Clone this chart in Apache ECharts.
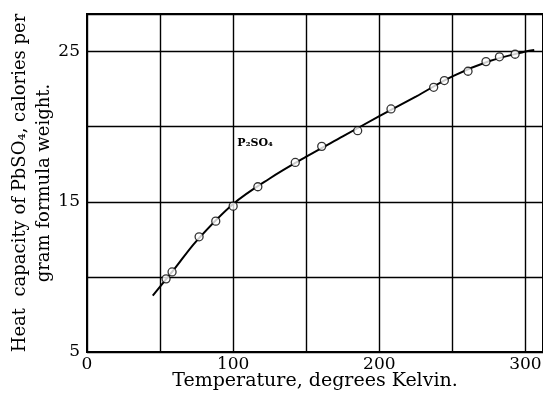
<!DOCTYPE html>
<html>
<head>
    <meta charset="utf-8">
    <title>PbSO4 heat capacity</title>
    <style>
        html,body,#myCanvas{
            height: 100%;
            width: 100%;
            padding: 0;
            margin: 0;
            background: #fff;
        }
    </style>
</head>
<body>
    <div id="myCanvas"></div>
    <script src="https://cdn.jsdelivr.net/npm/echarts@6/dist/echarts.min.js"></script>
    <script>
        // measured points (T in K, Cp in cal/deg per gram formula weight)
        var measT  = [54.1, 58.2, 76.7, 88.1, 100, 116.9, 142.5, 160.6, 185.2, 208, 237.2, 244.5, 260.7, 273, 282.2, 292.9];
        var measCp = [9.87, 10.33, 12.67, 13.71, 14.71, 16.0, 17.62, 18.69, 19.73, 21.18, 22.62, 23.07, 23.69, 24.33, 24.65, 24.82];

        // smooth curve drawn through them
        var curveT  = [45, 60, 75, 100, 125, 150, 175, 200, 225, 250, 275, 300, 306];
        var curveCp = [8.75, 10.55, 12.4, 14.85, 16.55, 18.0, 19.35, 20.7, 22.0, 23.35, 24.35, 25.0, 25.1];

        var xLabels = [0, 100, 200, 300];
        var yLabels = [5, 15, 25];

        var font = 'DejaVu Serif';

        function zip(a, b){
            return a.map(function(v, i){ return [v, b[i]]; });
        }

        let $parent = document.getElementById('myCanvas')
        let myChart = echarts.init($parent);

        var option = {
            animation: false,
            backgroundColor: '#fff',
            grid: {
                left: 87, right: 0, top: 14, bottom: 53,
                outerBoundsMode: 'none',
                containLabel: false,
                show: true, borderColor: '#000', borderWidth: 2
            },
            xAxis: {
                type: 'value', min: 0, max: 312, interval: 50,
                name: 'Temperature, degrees Kelvin.',
                nameLocation: 'middle', nameGap: 20, nameMoveOverlap: false,
                nameTextStyle: { fontFamily: font, fontSize: 19, color: '#000' },
                axisLine: { lineStyle: { color: '#000', width: 2 } },
                axisTick: { show: false },
                axisLabel: {
                    fontFamily: font, fontSize: 17, color: '#000', margin: 4,
                    formatter: function(v){ return xLabels.indexOf(v) >= 0 ? String(v) : ''; }
                },
                splitLine: { lineStyle: { color: '#000', width: 1.4 } }
            },
            yAxis: {
                type: 'value', min: 5, max: 27.5, interval: 5,
                name: 'Heat  capacity of PbSO\u2084, calories per\ngram formula weight.',
                nameLocation: 'middle', nameGap: 31, nameRotate: 90, nameMoveOverlap: false,
                nameTextStyle: { fontFamily: font, fontSize: 18, color: '#000', lineHeight: 24 },
                axisLine: { lineStyle: { color: '#000', width: 2 } },
                axisTick: { show: false },
                axisLabel: {
                    fontFamily: font, fontSize: 17, color: '#000', margin: 7,
                    formatter: function(v){ return yLabels.indexOf(v) >= 0 ? String(v) : ''; }
                },
                splitLine: { lineStyle: { color: '#000', width: 1.4 } }
            },
            series: [
                {
                    type: 'line',
                    data: zip(curveT, curveCp),
                    smooth: 0.35,
                    showSymbol: false,
                    lineStyle: { color: '#000', width: 2 },
                    markPoint: {
                        symbol: 'circle', symbolSize: 0,
                        data: [{ coord: [115, 18.9] }],
                        label: {
                            show: true, position: 'inside',
                            formatter: 'P\u2082SO\u2084',
                            fontFamily: font, fontWeight: 'bold', fontSize: 11, color: '#000'
                        }
                    },
                    z: 2
                },
                {
                    type: 'scatter',
                    data: zip(measT, measCp),
                    symbol: 'circle',
                    symbolSize: 8,
                    itemStyle: { color: '#fff', borderColor: '#000', borderWidth: 1.3 },
                    z: 3
                }
            ]
        };

        myChart.setOption(option);
    </script>
</body>
</html>
